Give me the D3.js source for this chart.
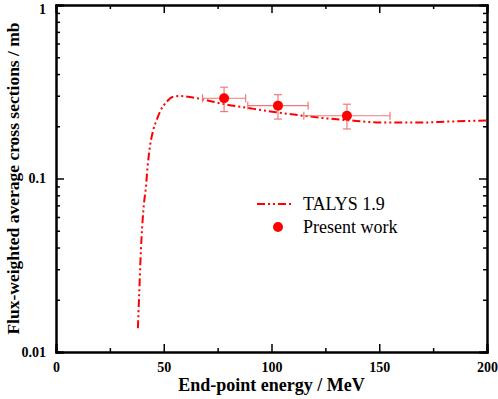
<!DOCTYPE html>
<html>
<head>
<meta charset="utf-8">
<script src="https://cdn.jsdelivr.net/npm/d3@7"></script>
<style>
  body { margin: 0; background: #fff; }
  svg text { font-family: "Liberation Serif", "Times New Roman", serif !important; }
</style>
</head>
<body>
<div id="chart"></div>
<script>
(function () {

    // TALYS 1.9 curve (end-point energy MeV, cross section mb)
    const talysE = [38.0, 38.8, 39.4, 40.0, 41.0, 41.6, 42.5, 43.6, 45.1, 46.7, 48.3, 51.4, 54.4, 57.5, 62, 66.8, 77.6, 90, 102, 114.8, 124, 134.9, 151.9, 167.4, 182.8, 200];
    const talysY = [0.0137, 0.025, 0.0387, 0.0527, 0.0752, 0.0858, 0.117, 0.153, 0.190, 0.217, 0.243, 0.277, 0.296, 0.299, 0.295, 0.288, 0.269, 0.254, 0.241, 0.230, 0.223, 0.217, 0.210, 0.210, 0.213, 0.216];

    // present work
    const expE = [78, 103, 135];
    const expEerr = [10, 14, 20];
    const expY = [0.290, 0.263, 0.230];
    const expYlo = [0.243, 0.220, 0.193];
    const expYhi = [0.336, 0.304, 0.268];

    const xTicks = [0, 50, 100, 150, 200];
    const yTicks = [0.01, 0.1, 1];

    const W = 498, H = 399;
    const margin = { top: 5, right: 11, bottom: 47, left: 56 };
    const width = W - margin.left - margin.right;
    const height = H - margin.top - margin.bottom;

    const svg = d3.select("#chart")
        .append("svg")
        .attr("width", W)
        .attr("height", H);

    const g = svg.append("g")
        .attr("transform", `translate(${margin.left},${margin.top})`);

    const x = d3.scaleLinear().domain([0, 200]).range([0, width]);
    const y = d3.scaleLog().domain([0.01, 1]).range([height, 0]);

    const minorX = d3.range(25, 200, 50);
    const minorY = [];
    [0.01, 0.1].forEach(d => { for (let k = 2; k <= 9; k++) minorY.push(d * k); });

    // axes, ticks pointing inward
    const bottom = g.append("g").attr("transform", `translate(0,${height})`);
    bottom.call(d3.axisBottom(x).tickValues(xTicks).tickSize(-8).tickPadding(10).tickFormat(d3.format("d")));
    bottom.append("g").call(d3.axisBottom(x).tickValues(minorX).tickSize(-4).tickFormat(""));

    const top = g.append("g");
    top.call(d3.axisTop(x).tickValues(xTicks).tickSize(-8).tickFormat(""));
    top.append("g").call(d3.axisTop(x).tickValues(minorX).tickSize(-4).tickFormat(""));

    const left = g.append("g");
    left.call(d3.axisLeft(y).tickValues(yTicks).tickSize(-8).tickPadding(10).tickFormat(d => d === 1 ? "1" : d.toString()));
    left.append("g").call(d3.axisLeft(y).tickValues(minorY).tickSize(-4).tickFormat(""));

    const right = g.append("g").attr("transform", `translate(${width},0)`);
    right.call(d3.axisRight(y).tickValues(yTicks).tickSize(-8).tickFormat(""));
    right.append("g").call(d3.axisRight(y).tickValues(minorY).tickSize(-4).tickFormat(""));

    g.selectAll(".domain").attr("stroke", "#000").attr("stroke-width", 2);
    g.selectAll(".tick line").attr("stroke", "#000").attr("stroke-width", 1.5);
    g.selectAll(".tick text")
        .style("font-weight", "bold")
        .style("font-size", "14px")
        .attr("fill", "#000");
    // keep the top label inside the picture
    left.selectAll(".tick text").filter(d => d === 1).attr("dy", "0.6em");

    // TALYS curve
    const line = d3.line()
        .x((d, i) => x(talysE[i]))
        .y((d, i) => y(talysY[i]))
        .curve(d3.curveMonotoneX);

    g.append("path")
        .datum(talysE)
        .attr("d", line)
        .attr("fill", "none")
        .attr("stroke", "#ff0000")
        .attr("stroke-width", 2)
        .attr("stroke-dasharray", "8,3,2,3,2,3");

    // error bars
    const errCol = "#f07a7a";
    const pts = expE.map((e, i) => ({ e, de: expEerr[i], v: expY[i], lo: expYlo[i], hi: expYhi[i] }));
    const eb = g.selectAll("g.err").data(pts).enter().append("g").attr("class", "err")
        .attr("stroke", errCol).attr("stroke-width", 1.2);
    eb.append("line")
        .attr("x1", d => x(d.e - d.de)).attr("x2", d => x(d.e + d.de))
        .attr("y1", d => y(d.v)).attr("y2", d => y(d.v));
    eb.append("line")
        .attr("x1", d => x(d.e - d.de)).attr("x2", d => x(d.e - d.de))
        .attr("y1", d => y(d.v) - 4).attr("y2", d => y(d.v) + 4);
    eb.append("line")
        .attr("x1", d => x(d.e + d.de)).attr("x2", d => x(d.e + d.de))
        .attr("y1", d => y(d.v) - 4).attr("y2", d => y(d.v) + 4);
    eb.append("line")
        .attr("x1", d => x(d.e)).attr("x2", d => x(d.e))
        .attr("y1", d => y(d.lo)).attr("y2", d => y(d.hi));
    eb.append("line")
        .attr("x1", d => x(d.e) - 4).attr("x2", d => x(d.e) + 4)
        .attr("y1", d => y(d.lo)).attr("y2", d => y(d.lo));
    eb.append("line")
        .attr("x1", d => x(d.e) - 4).attr("x2", d => x(d.e) + 4)
        .attr("y1", d => y(d.hi)).attr("y2", d => y(d.hi));

    g.selectAll("circle.pt").data(pts).enter().append("circle")
        .attr("class", "pt")
        .attr("cx", d => x(d.e))
        .attr("cy", d => y(d.v))
        .attr("r", 5)
        .attr("fill", "#ff0000");

    // legend
    const legend = svg.append("g").attr("transform", "translate(257,204)");
    legend.append("line")
        .attr("x1", 0).attr("x2", 37).attr("y1", 0).attr("y2", 0)
        .attr("stroke", "#ff0000").attr("stroke-width", 2)
        .attr("stroke-dasharray", "8,3,2,3,2,3");
    legend.append("text")
        .attr("x", 46).attr("y", 6)
        .style("font-size", "18px")
        .text("TALYS 1.9");
    legend.append("circle")
        .attr("cx", 21).attr("cy", 23).attr("r", 5)
        .attr("fill", "#ff0000");
    legend.append("text")
        .attr("x", 46).attr("y", 29)
        .style("font-size", "18px")
        .text("Present work");

    // axis titles
    svg.append("text")
        .attr("x", margin.left + width / 2)
        .attr("y", 391)
        .attr("text-anchor", "middle")
        .style("font-weight", "bold")
        .style("font-size", "18px")
        .text("End-point energy / MeV");

    svg.append("text")
        .attr("transform", `translate(19,${margin.top + height / 2}) rotate(-90)`)
        .attr("text-anchor", "middle")
        .style("font-weight", "bold")
        .style("font-size", "17.5px")
        .text("Flux-weighted average cross sections / mb");

})();
</script>
</body>
</html>
